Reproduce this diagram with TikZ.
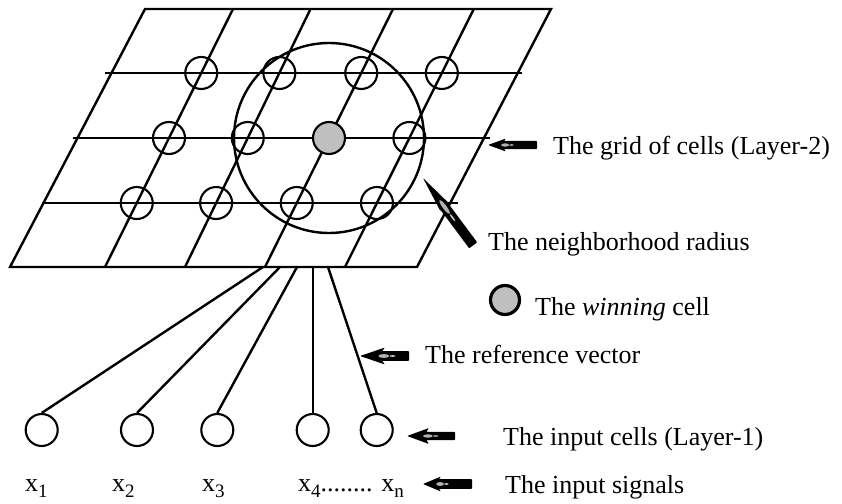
\documentclass[tikz,border=0pt]{standalone}
\usepackage{fontspec}
\setmainfont{Liberation Serif}
\usetikzlibrary{calc}
\newcommand\subs[1]{\raisebox{-6pt}{\fontsize{19}{20}\selectfont #1}}
\tikzset{
  gridline/.style={line width=2.4pt},
  cell/.style={circle, draw, line width=2.1pt, minimum size=32pt, inner sep=0pt},
  wincell/.style={cell, fill=gray!50},
  legendtext/.style={anchor=base west, inner sep=0pt, font=\fontsize{26}{30}\selectfont},
  sigtext/.style={anchor=base west, inner sep=0pt, font=\fontsize{26}{30}\selectfont},
  % left-pointing block arrow: length, head length, head half-height, shaft half-height
  pics/blockarrow/.style n args={4}{code={
    \fill[black, rounded corners=0.8pt] (0,0) -- (#2,#3) -- (#2*0.88,#4) -- (#1,#4) -- (#1,-#4)
      -- (#2*0.88,-#4) -- (#2,-#3) -- cycle;
    \fill[gray!60] (#2*0.95,0) ellipse [x radius=#2*0.22, y radius=#4*0.4];
    \fill[gray!45] (#2*1.3,0) ellipse [x radius=#2*0.12, y radius=#4*0.18];
  }}
}
\begin{document}
\begin{tikzpicture}[x=1pt, y=-1pt]
  \useasboundingbox (0,0) rectangle (842,503);

  % outline of the grid (Layer-2)
  \coordinate (tl) at (145,9);
  \coordinate (tr) at (551,9);
  \coordinate (bl) at (10,267);
  \coordinate (br) at (417,267);
  \draw[gridline] (tl) -- (tr) -- (br) -- (bl) -- cycle;

  % slanted column lines
  \coordinate (t1) at (233,9);   \coordinate (b1) at (105,267);
  \coordinate (t2) at (310.5,9); \coordinate (b2) at (185,267);
  \coordinate (t3) at (393,9);   \coordinate (b3) at (265,267);
  \coordinate (t4) at (473.8,9); \coordinate (b4) at (345,267);
  \foreach \i in {1,...,4} \draw[gridline] (t\i) -- (b\i);

  % horizontal row lines (rows at 1/4, 1/2, 3/4 of the height)
  \coordinate (h1l) at (105,73);  \coordinate (h1r) at (522,73);
  \coordinate (h2l) at (73,138);  \coordinate (h2r) at (490,138);
  \coordinate (h3l) at (42,203);  \coordinate (h3r) at (458,203);
  \foreach \j in {1,2,3} \draw[gridline] (h\j l) -- (h\j r);

  % crossing points of rows and columns
  \foreach \j/\f in {1/0.248,2/0.5,3/0.752}{
    \foreach \i in {1,...,4}{
      \coordinate (p\j\i) at ($(t\i)!\f!(b\i)$);
    }
  }
  % cells at the crossings
  \foreach \j/\i in {1/1,1/2,1/3,1/4,2/1,2/2,2/4,3/1,3/2,3/3,3/4}
    \node[cell] (c\j\i) at (p\j\i) {};
  \node[wincell] (c23) at (p23) {};

  % neighbourhood around the winning cell
  \node[draw, circle, gridline, minimum size=190pt, inner sep=0pt] (nbhd) at (c23.center) {};

  % input cells (Layer-1)
  \node[cell] (in1) at (41.7,430) {};
  \node[cell] (in2) at (137,430) {};
  \node[cell] (in3) at (217.3,430) {};
  \node[cell] (in4) at (312.7,430) {};
  \node[cell] (in5) at (376.7,430) {};

  % connections to the grid
  \coordinate (e1) at (263,267);
  \coordinate (e2) at (280,267);
  \coordinate (e3) at (297,267);
  \coordinate (e4) at (312.7,267);
  \coordinate (e5) at (328,267);
  \foreach \k in {1,...,5} \draw[gridline] (e\k) -- (in\k.north);

  % input signals
  \node[sigtext] (x1) at (25,491) {x\subs{1}};
  \node[sigtext] (x2) at (112,491) {x\subs{2}};
  \node[sigtext] (x3) at (202,491) {x\subs{3}};
  \node[sigtext] (x4) at (298,491) {x\subs{4}........ x\subs{n}};

  % legend
  \node[legendtext] (lgrid) at (553,154) {The grid of cells (Layer-2)};
  \node[legendtext] (lradius) at (488,250) {The neighborhood radius};
  \node[wincell, line width=3.2pt, minimum size=29pt] (wicon) at (505,300) {};
  \node[legendtext] (lwin) at (535,315) {The \textit{winning} cell};
  \node[legendtext] (lref) at (425,363) {The reference vector};
  \node[legendtext] (linput) at (503,445) {The input cells (Layer-1)};
  \node[legendtext] (lsig) at (505,493) {The input signals};

  % pointer arrows
  \pic at (488,145) {blockarrow={49}{18}{6.5}{4.2}};
  \pic[rotate=-53.3] at (423,178) {blockarrow={84}{38}{6}{5}};
  \pic at (360,356) {blockarrow={49}{25}{8.5}{4.8}};
  \pic at (407,436) {blockarrow={48}{22}{8}{4.2}};
  \pic at (423,484) {blockarrow={49}{18}{7.5}{4.8}};
\end{tikzpicture}
\end{document}
